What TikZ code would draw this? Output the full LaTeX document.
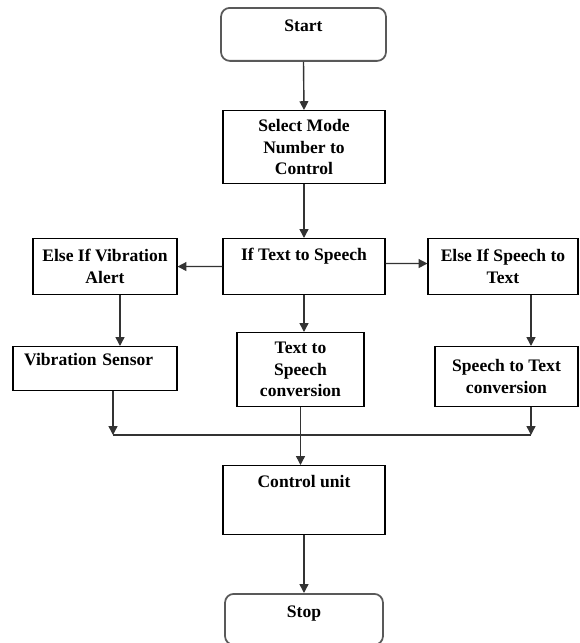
\documentclass[tikz,border=0pt]{standalone}
\usepackage{fontspec}
\setmainfont{Liberation Serif}
\usetikzlibrary{arrows.meta}
\tikzset{box/.style = {draw, line width=0.6pt, align=center, anchor=north,
                       inner sep=0pt, font=\bfseries\fontsize{10}{12.2}\selectfont}}
\tikzset{term/.style = {box, draw=black!65, line width=1pt, rounded corners=5pt}}
\tikzset{flow/.style = {draw=black!80, line width=0.8pt,
                        -{Triangle[length=5pt, width=5pt]}}}
\tikzset{bus/.style = {draw=black!80, line width=0.8pt}}

\begin{document}
\begin{tikzpicture}[x=0.02cm, y=-0.02cm]
    \useasboundingbox (0, 0) rectangle (579, 643);

    \node [term, minimum width=3.3cm, text height=0.48cm, text depth=0.58cm] (start) at (303.5, 7) {Start};
    \node [box, minimum width=3.24cm, minimum height=1.46cm] (select) at (304, 110) {Select Mode\\Number to\\Control};
    \node [box, minimum width=3.24cm, text height=0.44cm, text depth=0.68cm] (iftext) at (304, 238) {If Text to Speech};
    \node [box, minimum width=2.88cm, minimum height=1.12cm] (elsevib) at (105, 238) {Else If Vibration\\Alert};
    \node [box, minimum width=3cm, minimum height=1.12cm] (elsestt) at (503, 238) {Else If Speech to\\Text};
    \node [box, text width=2.84cm, inner xsep=0.22cm, align=left, text height=0.38cm, text depth=0.5cm] (vibsensor) at (95, 346) {Vibration Sensor};
    \node [box, minimum width=2.54cm, minimum height=1.48cm] (tts) at (300.5, 332) {Text to\\Speech\\conversion};
    \node [box, minimum width=2.86cm, minimum height=1.2cm] (stt) at (506.5, 346) {Speech to Text\\conversion};
    \node [box, minimum width=3.24cm, text height=0.44cm, text depth=0.94cm] (control) at (304, 465) {Control unit};
    \node [term, minimum width=3.16cm, text height=0.48cm, text depth=0.54cm] (stop) at (304, 593) {Stop};

    \coordinate (busl) at (113, 435);
    \coordinate (busr) at (531, 435);

    \draw [flow] (start.south) -- (select.north);
    \draw [flow] (select.south) -- (iftext.north);
    \draw [flow] (iftext.west) -- (elsevib.east);
    \draw [flow] ([yshift=0.06cm]iftext.east) -- ([yshift=0.06cm]elsestt.west);

    \draw [flow] ([xshift=0.3cm]elsevib.south) -- ([xshift=0.3cm]elsevib.south |- vibsensor.north);
    \draw [flow] (iftext.south) -- (iftext.south |- tts.north);
    \draw [flow] ([xshift=0.56cm]elsestt.south) -- ([xshift=0.56cm]elsestt.south |- stt.north);

    \draw [flow] (vibsensor.south -| busl) -- (busl);
    \draw [flow] (stt.south -| busr) -- (busr);
    \draw [bus] (busl) -- (busr);

    \draw [flow] (tts.south) -- (tts.south |- control.north);
    \draw [flow] (control.south) -- (stop.north);
\end{tikzpicture}
\end{document}
